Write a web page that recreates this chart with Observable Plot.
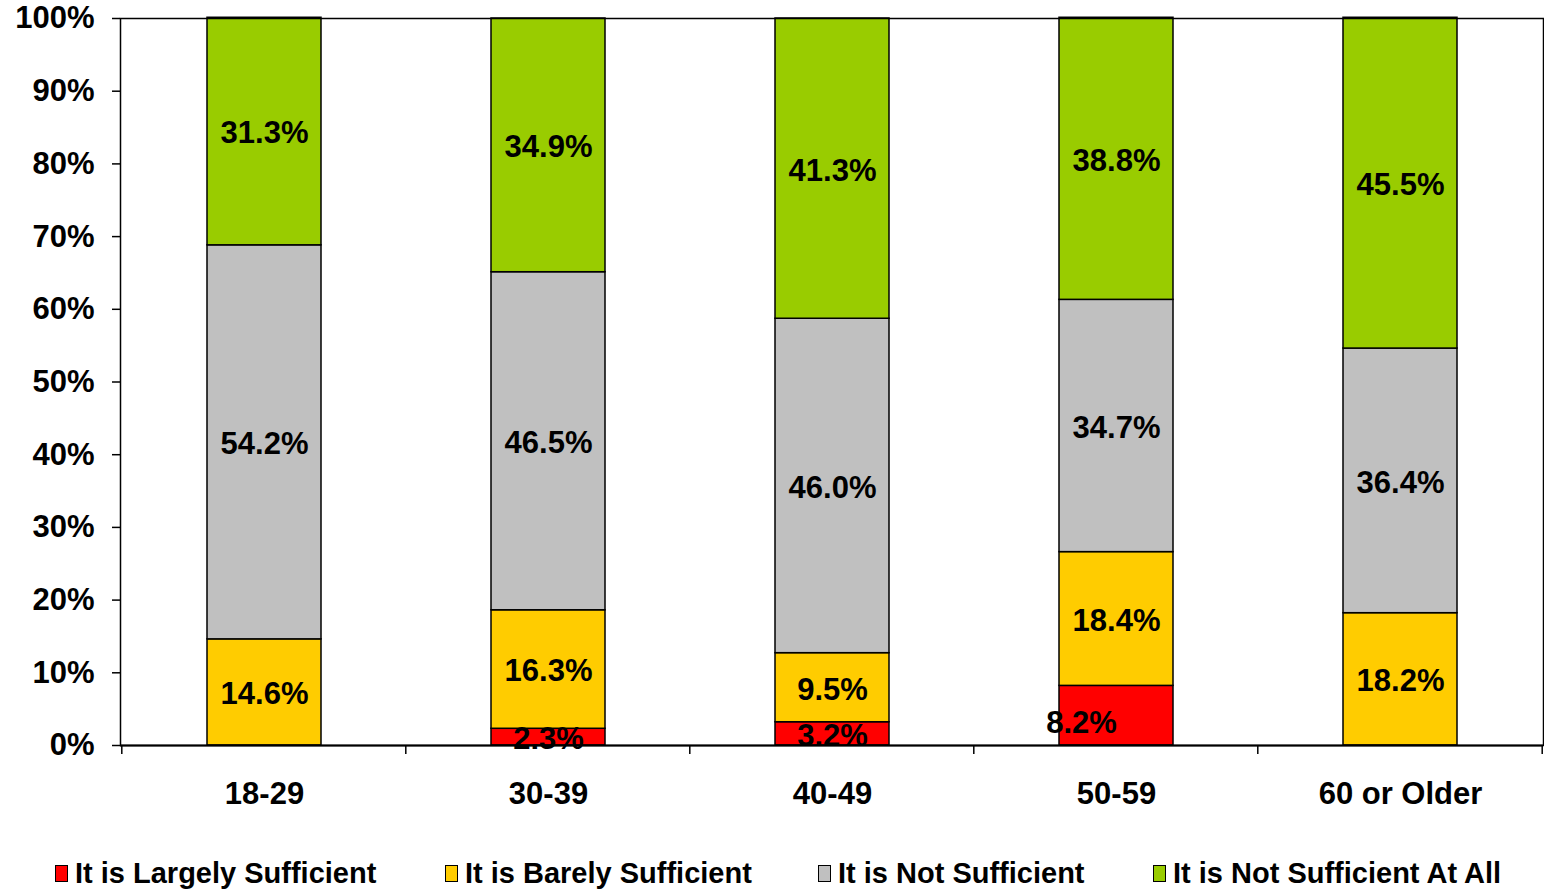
<!DOCTYPE html>
<html><head><meta charset="utf-8">
<script src="https://cdn.jsdelivr.net/npm/d3@7"></script>
<script src="https://cdn.jsdelivr.net/npm/@observablehq/plot@0.6"></script>
<style>
body{margin:0;background:#fff;font-family:"Liberation Sans",Arial,sans-serif;font-weight:bold;overflow:hidden}
#legend{position:relative;height:34px;margin-top:6px;font-size:29px;line-height:34px;white-space:nowrap}
.item{position:absolute;top:0;display:flex;align-items:center}
.sw{width:13px;height:17px;border:1.5px solid #000;margin-right:7px;box-sizing:border-box}
</style></head><body><div id="chart"></div><div id="legend"></div>
<script>
const ageGroups = ["18-29", "30-39", "40-49", "50-59", "60 or Older"];
const responses = ["It is Largely Sufficient", "It is Barely Sufficient", "It is Not Sufficient", "It is Not Sufficient At All"];
const colors = ["#FF0000", "#FFCC00", "#C0C0C0", "#99CC00"];
const largely = [0, 2.3, 3.2, 8.2, 0];
const barely = [14.6, 16.3, 9.5, 18.4, 18.2];
const notSufficient = [54.2, 46.5, 46.0, 34.7, 36.4];
const notAtAll = [31.3, 34.9, 41.3, 38.8, 45.5];
const yTicks = [0, 10, 20, 30, 40, 50, 60, 70, 80, 90, 100];
const legendLeft = [55, 445, 818, 1153];

const series = [largely, barely, notSufficient, notAtAll];
const data = [];
ageGroups.forEach((age, i) => {
  series.forEach((vals, s) => data.push({age, response: responses[s], value: vals[i]}));
});
const fmt = d => d.value.toFixed(1) + "%";
const shifted = d => d.age === "50-59" && d.response === responses[0];

const plot = Plot.plot({
  width: 1544,
  height: 850,
  marginLeft: 120,
  marginRight: 1,
  marginTop: 18,
  marginBottom: 105,
  style: {fontFamily: '"Liberation Sans", Arial, sans-serif', fontWeight: "bold", fontSize: "31px", color: "#000", background: "#fff"},
  x: {domain: ageGroups, paddingInner: 0.6, paddingOuter: 0.3, label: null},
  y: {domain: [0, 100], label: null},
  color: {domain: responses, range: colors},
  marks: [
    Plot.barY(data, {x: "age", y: "value", fill: "response", stroke: "#000", strokeWidth: 1.5}),
    Plot.frame({stroke: "#000", strokeWidth: 1.5}),
    Plot.ruleY([0], {stroke: "#000", strokeWidth: 2}),
    Plot.text(data, Plot.stackY({x: "age", y: "value", z: "response", text: d => (d.value > 0 && !shifted(d)) ? fmt(d) : null, fill: "#000", dy: 2})),
    Plot.text(data, Plot.stackY({x: "age", y: "value", z: "response", text: d => shifted(d) ? fmt(d) : null, fill: "#000", dx: -35, dy: 7})),
    Plot.axisY({ticks: yTicks, tickFormat: d => d + "%", tickSize: 8, tickPadding: 18, strokeWidth: 1.5}),
    Plot.axisX({tickSize: 0, tickPadding: 36})
  ]
});
document.getElementById("chart").appendChild(plot);

// category boundary ticks on the x axis, from the band scale
const xs = plot.scale("x");
const ys = plot.scale("y");
const y0 = ys.apply(0);
const half = xs.step * xs.paddingInner / 2;
const bounds = ageGroups.map(a => xs.apply(a) - half);
bounds.push(xs.apply(ageGroups[ageGroups.length - 1]) + xs.bandwidth + half);
d3.select(plot).append("g").selectAll("line").data(bounds).join("line")
  .attr("x1", d => d).attr("x2", d => d).attr("y1", y0).attr("y2", y0 + 9)
  .attr("stroke", "#000").attr("stroke-width", 1.5);

const legend = d3.select("#legend");
responses.forEach((r, i) => {
  const it = legend.append("div").attr("class", "item").style("left", legendLeft[i] + "px");
  it.append("div").attr("class", "sw").style("background", colors[i]);
  it.append("span").text(r);
});
</script>
</body></html>
